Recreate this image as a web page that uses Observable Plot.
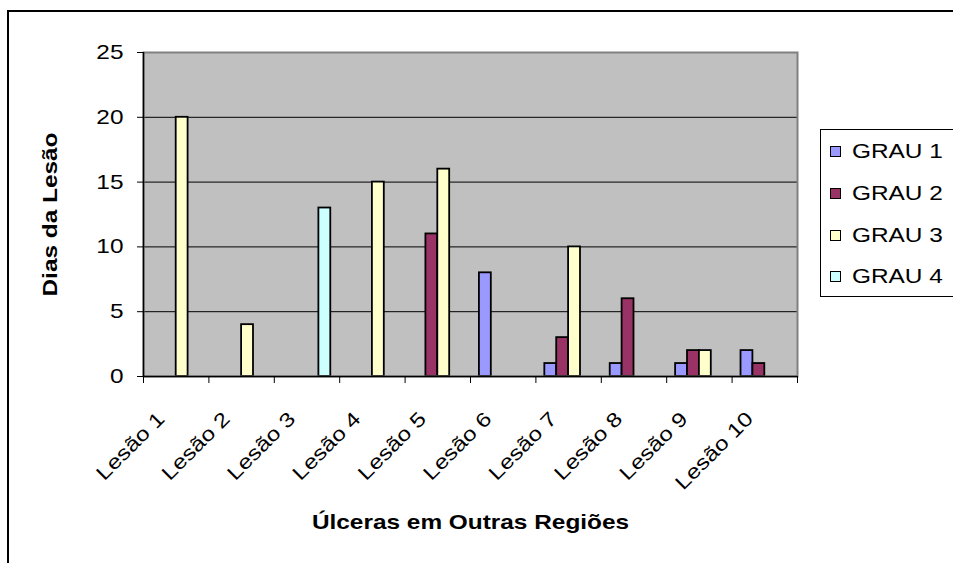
<!DOCTYPE html>
<html>
<head>
<meta charset="utf-8">
<script src="https://cdn.jsdelivr.net/npm/d3@7"></script>
<script src="https://cdn.jsdelivr.net/npm/@observablehq/plot@0.6"></script>
<style>
  html, body { margin: 0; padding: 0; background: #fff; }
  #wrap { position: relative; width: 953px; height: 563px; overflow: hidden; font-family: "Liberation Sans", Arial, sans-serif; }
  #outer { position: absolute; left: 7px; top: 10px; width: 1000px; height: 600px; border: 2px solid #000; box-sizing: border-box; pointer-events: none; }
  #chart { position: absolute; left: 0; top: 0; }
  #legend { position: absolute; left: 820px; top: 129px; width: 200px; height: 168px; border: 1px solid #000; box-sizing: border-box; padding-top: 1px; background: #fff; }
  .row { height: 41.7px; display: flex; align-items: center; }
  .sw { width: 11px; height: 11px; border: 1.5px solid #000; margin-left: 9px; box-sizing: border-box; flex: none; }
  .lab { margin-left: 11px; font-size: 20px; color: #000; transform: scaleX(1.22); transform-origin: left center; white-space: nowrap; }
</style>
</head>
<body>
<div id="wrap">
  <div id="chart"></div>
  <div id="legend"></div>
  <div id="outer"></div>
</div>
<script>
const categories = ["Lesão 1","Lesão 2","Lesão 3","Lesão 4","Lesão 5","Lesão 6","Lesão 7","Lesão 8","Lesão 9","Lesão 10"];
const series = ["GRAU 1","GRAU 2","GRAU 3","GRAU 4"];
const grau1 = [0,0,0,0,0,8,1,1,1,2];
const grau2 = [0,0,0,0,11,0,3,6,2,1];
const grau3 = [20,4,0,15,16,0,10,0,2,0];
const grau4 = [0,0,13,0,0,0,0,0,0,0];
const colors = ["#9999FF","#993366","#FFFFCC","#CCFFFF"];
const yTicks = [0,5,10,15,20,25];
const gridTicks = [5,10,15,20];
const xTitle = "Úlceras em Outras Regiões";
const yTitle = "Dias da Lesão";

// Excel-style clustered layout: 4 bars + 150% gap per category
const slots = series.length + 1.5;
const allSeries = [grau1, grau2, grau3, grau4];
const rows = [];
allSeries.forEach((vals, s) => {
  vals.forEach((v, i) => {
    if (v > 0) rows.push({cat: categories[i], i, s, series: series[s], value: v});
  });
});

const plot = Plot.plot({
  width: 953,
  height: 563,
  marginLeft: 143,
  marginRight: 156,
  marginTop: 52,
  marginBottom: 187,
  style: {fontFamily: "'Liberation Sans', Arial, sans-serif", fontSize: "20px", color: "#000", background: "transparent", overflow: "visible"},
  x: {type: "linear", domain: [0, categories.length], axis: null},
  y: {domain: [0, 25], axis: null},
  color: {domain: series, range: colors},
  marks: [
    Plot.frame({fill: "#C0C0C0", stroke: null}),
    Plot.ruleY(gridTicks, {stroke: "#000", strokeWidth: 1}),
    Plot.rectY(rows, {
      x1: d => d.i + (0.75 + d.s) / slots,
      x2: d => d.i + (1.75 + d.s) / slots,
      y1: 0,
      y2: "value",
      fill: "series",
      stroke: "#000",
      strokeWidth: 1.8
    }),
    Plot.frame({stroke: "#808080", strokeWidth: 2}),
    Plot.ruleX([0], {stroke: "#000", strokeWidth: 1.5}),
    Plot.ruleY([0], {stroke: "#000", strokeWidth: 1.5}),
    Plot.axisY({ticks: yTicks, tickSize: 6, tickPadding: 14, tickFormat: d => String(d), label: null, stroke: "#000", fontSize: 20}),
    Plot.axisX({ticks: d3.range(0, categories.length + 1), tickSize: 7, tickFormat: () => "", label: null, stroke: "#000"}),
    Plot.text(categories, {
      x: (d, i) => i + 0.5,
      frameAnchor: "bottom",
      text: d => d,
      rotate: -45,
      textAnchor: "end",
      lineAnchor: "middle",
      dx: -15,
      dy: 39,
      fontSize: 20,
      fill: "#000"
    }),
    Plot.text([yTitle], {
      frameAnchor: "left",
      text: d => d,
      rotate: -90,
      textAnchor: "middle",
      lineAnchor: "middle",
      dx: -93,
      fontWeight: "bold",
      fontSize: 20,
      fill: "#000"
    }),
    Plot.text([xTitle], {
      frameAnchor: "bottom",
      text: d => d,
      textAnchor: "middle",
      lineAnchor: "middle",
      dy: 146,
      fontWeight: "bold",
      fontSize: 20,
      letterSpacing: "1.4px",
      fill: "#000"
    })
  ]
});
document.getElementById("chart").appendChild(plot);

// Widen glyphs horizontally in each text's own frame, as in the reference rendering
const SX = 1.22;
d3.select(plot).selectAll("text").each(function() {
  const t = d3.select(this);
  const tr = t.attr("transform") || "";
  const xa = t.attr("x");
  let shift = "";
  if (xa != null && !isNaN(+xa)) {
    shift = ` translate(${+xa},0)`;
    t.attr("x", null);
  }
  t.attr("transform", `${tr}${shift} scale(${SX},1)`);
});

const legend = document.getElementById("legend");
series.forEach((name, k) => {
  const row = document.createElement("div");
  row.className = "row";
  const sw = document.createElement("div");
  sw.className = "sw";
  sw.style.background = colors[k];
  const lab = document.createElement("div");
  lab.className = "lab";
  lab.textContent = name;
  row.appendChild(sw);
  row.appendChild(lab);
  legend.appendChild(row);
});
</script>
</body>
</html>
